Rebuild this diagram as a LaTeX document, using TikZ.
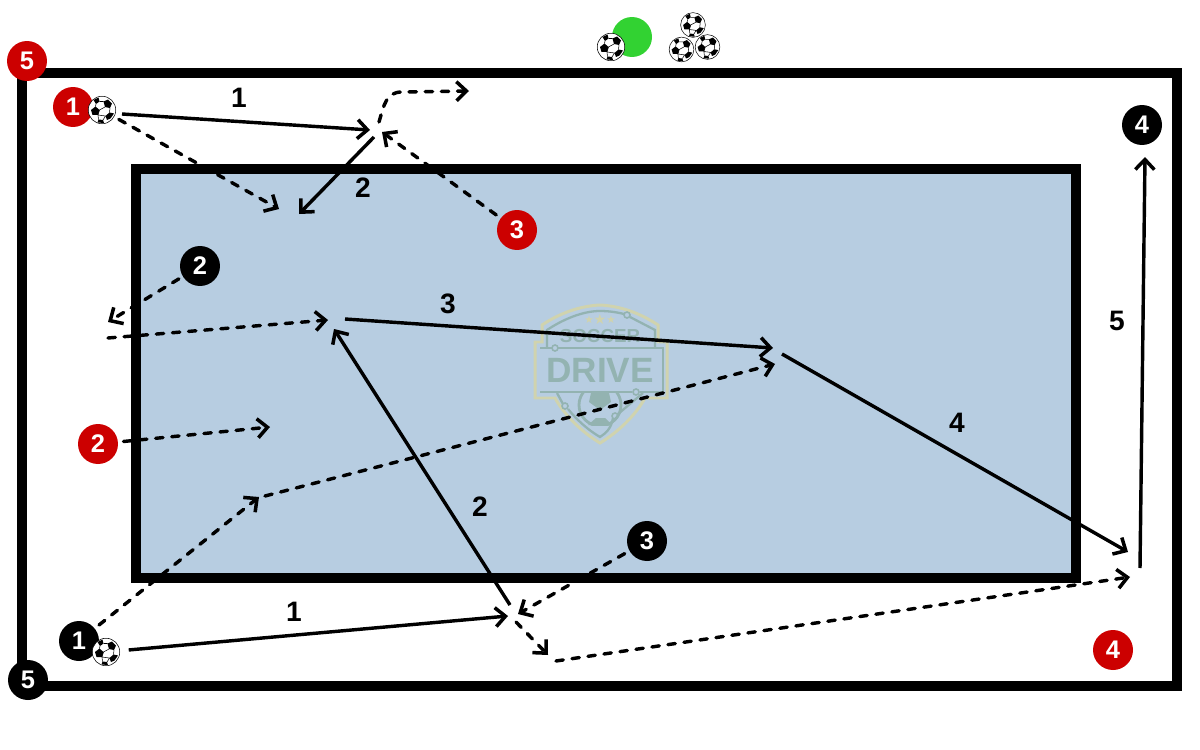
\documentclass[tikz,border=0pt]{standalone}
\usepackage{fontspec}
\setmainfont{Liberation Sans}
\newfontfamily\symfont{DejaVu Sans}
\usetikzlibrary{arrows.meta}
\definecolor{pitchblue}{HTML}{B7CDE1}
\definecolor{playerred}{HTML}{CC0000}
\definecolor{conegreen}{HTML}{32D232}
\definecolor{logoteal}{HTML}{93B3B1}
\definecolor{logoyellow}{HTML}{D0D3AE}
\newcommand{\ballpatches}{%
  \fill[black] (0.03,0.17) -- (0.12,0.21) -- (0.2,0.13) -- (0.16,0.04) -- (0.06,0.06) -- cycle;
  \fill[black] (-0.22,0.0) -- (-0.13,0.07) -- (-0.05,0.0) -- (-0.08,-0.1) -- (-0.19,-0.1) -- cycle;
  \fill[black] (0.1,-0.2) -- (0.17,-0.17) -- (0.24,-0.07) -- (0.15,-0.05) -- (0.07,-0.12) -- cycle;
  \fill[black] (-0.17,0.2) -- (-0.07,0.25) -- (-0.05,0.17) -- (-0.12,0.12) -- cycle;
  \fill[black] (-0.09,-0.25) -- (0.04,-0.26) -- (0.02,-0.2) -- (-0.07,-0.19) -- cycle;
  \draw[black,line width=0.3pt] (0.06,0.06) -- (-0.05,0.0) -- (-0.08,-0.1) -- (-0.07,-0.19);
  \draw[black,line width=0.3pt] (-0.08,-0.1) -- (0.07,-0.12) -- (0.02,-0.2) (0.15,-0.05) -- (0.16,0.04);
  \draw[black,line width=0.3pt] (-0.12,0.12) -- (-0.13,0.07) (-0.05,0.17) -- (0.03,0.17);
}
\begin{document}
\begin{tikzpicture}[
  x=0.02cm, y=-0.02cm,
  >={Straight Barb[length=2mm,width=3.8mm,line width=2pt]},
  field/.style={draw=black, line width=5.6pt, miter limit=10},
  player/.style={circle, minimum size=8mm, inner sep=0pt, text=white,
                 font=\fontsize{14.5}{15}\selectfont\bfseries},
  redplayer/.style={player, fill=playerred},
  blackplayer/.style={player, fill=black},
  ball/.style={circle, minimum size=#1*5.5mm, inner sep=0pt, fill=white, draw=black, line width=0.3pt,
               path picture={\begin{scope}[shift={(path picture bounding box.center)},x=#1 cm,y=#1 cm]\ballpatches\end{scope}}},
  ball/.default=1,
  pass/.style={->, line width=1.95pt, draw=black},
  run/.style={->, line width=1.95pt, draw=black, line cap=round, dash pattern=on 4.2pt off 5pt},
  stepnum/.style={font=\fontsize{16}{16}\selectfont\bfseries, text=black, inner sep=0pt},
  logoline/.style={draw=logoteal, line width=1.3pt},
  logodot/.style={circle, draw=logoteal, line width=0.9pt, minimum size=1.2mm, inner sep=0pt},
]
\useasboundingbox (0,0) rectangle (1200,750);
% ---- Pitch ----
\draw[field] (22,73) rectangle (1177,686);
\draw[field, fill=pitchblue] (136,169) rectangle (1076,578);

% ---- Watermark ----
\draw[logoyellow, line width=1.7pt]
  (600,305) .. controls (580,306) and (560,313) .. (542,325) -- (542,342) -- (535,342) -- (535,398) -- (555,398)
  .. controls (565,416) and (582,432) .. (600,443) .. controls (618,432) and (635,416) .. (645,398) -- (667,398)
  -- (667,342) -- (658,342) -- (658,325) .. controls (640,313) and (620,306) .. (600,305);
\draw[logoline] (547,347) -- (547,330) .. controls (562,320) and (582,311) .. (600,311)
  .. controls (608,311) and (616,312) .. (624,314);
\draw[logoline] (630,317) -- (655,330) -- (655,347);
\draw[logoline] (540,348) -- (552,348) (558,348) -- (663,348) -- (663,392) -- (640,392) (632,392) -- (540,392) -- cycle;
\draw[logoline] (557,393) -- (563,404) (568,409) .. controls (577,420) and (588,430) .. (600,437)
  .. controls (606,433) and (611,429) .. (613,418) (618,414) -- (643,393);
\begin{scope}
  \clip (576,393) rectangle (624,425);
  \draw[logoteal, line width=1.6pt] (600,405) circle (21);
  \fill[logoteal] (591,393) -- (609,393) -- (611,402) -- (600,410) -- (589,402) -- cycle;
  \fill[logoteal] (588,425) -- (596,418) -- (605,418) -- (612,425) -- cycle;
\end{scope}
\node[logodot] (logodota) at (627,315) {};
\node[logodot] (logodotb) at (555,348) {};
\node[logodot] (logodotc) at (636,392) {};
\node[logodot] (logodotd) at (565,406) {};
\node[logodot] (logodote) at (615,416) {};
\node[text=logoteal, font=\fontsize{10.7}{11}\selectfont\bfseries, inner sep=0pt] (logosoccer) at (600,336) {SOCCER};
\node[text=logoteal, font=\fontsize{20}{20}\selectfont\bfseries, inner sep=0pt] (logodrive) at (600,370.5) {DRIVE};
\node[text=logoyellow, font=\fontsize{8}{8}\symfont, inner sep=0pt] (logostars) at (600,319) {★};
\node[text=logoyellow, font=\fontsize{6}{6}\symfont, inner sep=0pt] (logostarl) at (589,320) {★};
\node[text=logoyellow, font=\fontsize{6}{6}\symfont, inner sep=0pt] (logostarr) at (611,320) {★};

% ---- Players ----
\node[redplayer]   (redfive)    at (27,61)    {5};
\node[redplayer]   (redone)     at (73,107)   {1};
\node[redplayer]   (redtwo)     at (98,444)   {2};
\node[redplayer]   (redthree)   at (517,230)  {3};
\node[redplayer]   (redfour)    at (1113,650) {4};
\node[blackplayer] (blackfive)  at (28,680)   {5};
\node[blackplayer] (blackone)   at (79,641)   {1};
\node[blackplayer] (blacktwo)   at (200,266)  {2};
\node[blackplayer] (blackthree) at (647,541)  {3};
\node[blackplayer] (blackfour)  at (1142,125) {4};

% ---- Cone and balls ----
\node[circle, fill=conegreen, minimum size=8mm, inner sep=0pt] (cone) at (632,37) {};
\node[ball]      (ballcone)  at (611,47)     {};
\node[ball=0.9]  (balltop)   at (693,25)     {};
\node[ball=0.9]  (ballleft)  at (681.5,49.5) {};
\node[ball=0.9]  (ballright) at (707.5,47)   {};
\node[ball]      (ballred)   at (102,110)    {};
\node[ball]      (ballblack) at (106,652)    {};

% ---- Free ends ----
\coordinate (redstart)  at (122,114);
\coordinate (topmeet)   at (370,130);
\coordinate (topcross)  at (382,132);
\coordinate (topsquare) at (279,209);
\coordinate (topback)   at (374,137);
\coordinate (topdrop)   at (299,214);
\coordinate (toprun)    at (379,122);
\coordinate (topexit)   at (469,91);
\coordinate (wide)      at (108,322);
\coordinate (overlapin) at (108,338);
\coordinate (midleft)   at (328,320);
\coordinate (midstart)  at (345,319);
\coordinate (midright)  at (773,348);
\coordinate (midrun)    at (775,364);
\coordinate (midout)    at (782,354);
\coordinate (farcorner) at (1128,552);
\coordinate (farrun)    at (1130,577);
\coordinate (farup)     at (1140,568);
\coordinate (farend)    at (1145,157);
\coordinate (redrun)    at (270,427);
\coordinate (bend)      at (259,497);
\coordinate (bendout)   at (265,496);
\coordinate (botmeet)   at (508,616);
\coordinate (botcross)  at (518,614);
\coordinate (botup)     at (510,605);
\coordinate (midback)   at (334,329);
\coordinate (botdrop)   at (516,622);
\coordinate (botcorner) at (548,655);
\coordinate (botrun)    at (556,661);

% ---- Passes ----
\draw[pass] (redstart) -- (topmeet);
\draw[pass] (topback) -- (topdrop);
\draw[pass] (midstart) -- (midright);
\draw[pass] (midout) -- (farcorner);
\draw[pass] (farup) -- (farend);
\draw[pass, shorten <=5pt] (ballblack) -- (botmeet);
\draw[pass] (botup) -- (midback);

% ---- Runs ----
\draw[run, shorten <=3pt] (ballred) -- (topsquare);
\draw[run, shorten <=3pt] (redthree) -- (topcross);
\draw[run] (toprun) .. controls (384,105) and (386,92) .. (402,92) -- (topexit);
\draw[run, shorten <=2.5pt] (blacktwo) -- (wide);
\draw[run] (overlapin) -- (midleft);
\draw[run, shorten <=3pt] (redtwo) -- (redrun);
\draw[run, shorten <=3pt] (blackone) -- (bend);
\draw[run] (bendout) -- (midrun);
\draw[run, shorten <=3pt] (blackthree) -- (botcross);
\draw[run] (botdrop) -- (botcorner);
\draw[run] (botrun) -- (farrun);

% ---- Step numbers ----
\node[stepnum] (numa) at (239,98)   {1};
\node[stepnum] (numb) at (363,188)  {2};
\node[stepnum] (numc) at (448,304)  {3};
\node[stepnum] (numd) at (957,423)  {4};
\node[stepnum] (nume) at (1117,321) {5};
\node[stepnum] (numf) at (480,507)  {2};
\node[stepnum] (numg) at (294,612)  {1};
\end{tikzpicture}
\end{document}
